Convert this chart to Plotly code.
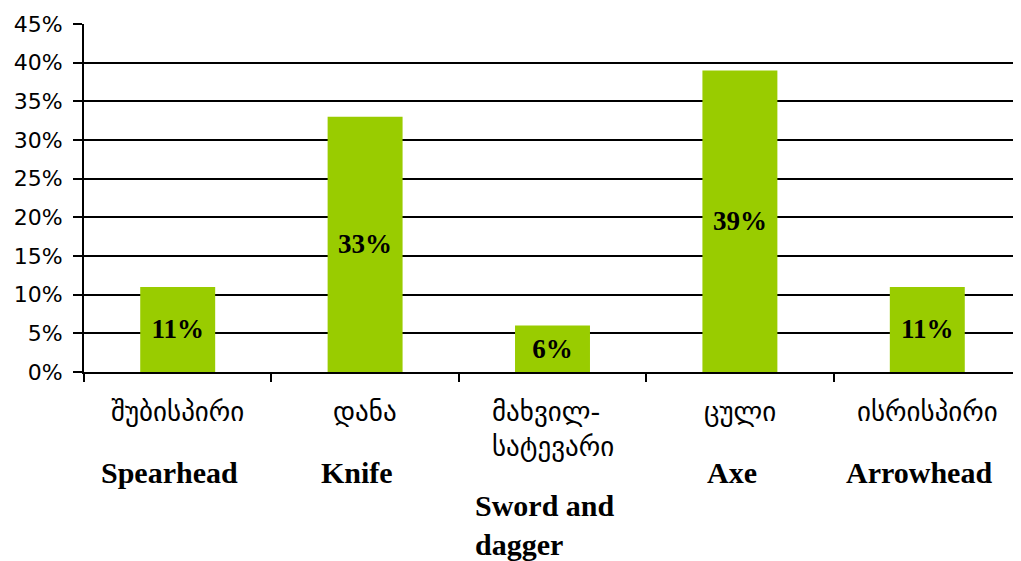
import plotly.graph_objects as go

categories_ka = ["შუბისპირი", "დანა", "მახვილ-<br>სატევარი", "ცული", "ისრისპირი"]
categories_en = ["Spearhead", "Knife", "Sword and<br>dagger", "Axe", "Arrowhead"]
values = [11, 33, 6, 39, 11]
value_labels = ["11%", "33%", "6%", "39%", "11%"]
y_ticks = [0, 5, 10, 15, 20, 25, 30, 35, 40, 45]

x_keys = [en.replace("<br>", " ") for en in categories_en]

fig = go.Figure()
fig.add_trace(go.Bar(
    x=x_keys, y=values,
    marker=dict(color="#99CC00", line=dict(width=0)),
    text=["<b>" + t + "</b>" for t in value_labels],
    textposition="inside", insidetextanchor="middle", constraintext="none",
    textfont=dict(family="Liberation Serif", size=27, color="black"),
    textangle=0,
))

annotations = []
for key, ka, en in zip(x_keys, categories_ka, categories_en):
    n_ka = ka.count("<br>") + 1
    annotations.append(dict(
        x=key, xref="x", y=0, yref="paper", yanchor="top", yshift=-22,
        text=ka, showarrow=False, align="left",
        font=dict(family="DejaVu Sans", size=27, color="black"),
    ))
    annotations.append(dict(
        x=key, xref="x", y=0, yref="paper", yanchor="top",
        yshift=-82 - 33 * (n_ka - 1), xshift=-8,
        text="<b>" + en + "</b>", showarrow=False, align="left",
        font=dict(family="Liberation Serif", size=30, color="black"),
    ))

# the page body adds an 8px offset; margins compensate so the plot sits like the reference
fig.update_layout(
    width=1013, height=553,
    margin=dict(l=76, r=0, t=16, b=189),
    paper_bgcolor="white", plot_bgcolor="white",
    bargap=0.6, showlegend=False,
    annotations=annotations,
    xaxis=dict(
        type="category", showticklabels=False, showgrid=False,
        showline=True, linecolor="black", linewidth=2,
        ticks="outside", tickson="boundaries", ticklen=8, tickwidth=2, tickcolor="black",
        range=[-0.5, 4.5],
    ),
    yaxis=dict(
        range=[0, 45], tickvals=y_ticks, ticktext=[f"{v}%" for v in y_ticks],
        showgrid=True, gridcolor="black", gridwidth=2,
        showline=True, linecolor="black", linewidth=2, zeroline=False,
        ticks="outside", ticklen=9, tickwidth=2, tickcolor="black",
        ticklabelstandoff=6,
        tickfont=dict(family="DejaVu Sans", size=22, color="black"),
    ),
)

fig.write_html("out.html")
